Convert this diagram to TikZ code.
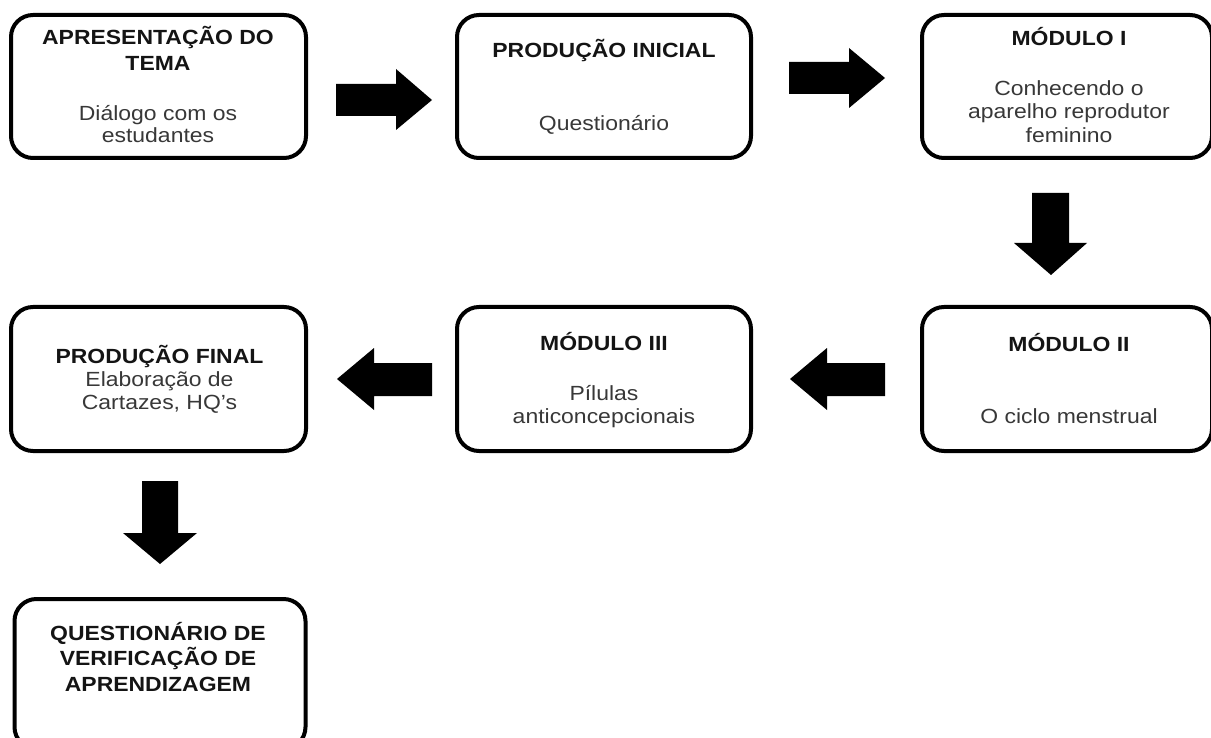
\documentclass[tikz,border=0pt]{standalone}
\usepackage{fontspec}
\setmainfont{Liberation Sans}[FakeStretch=1.12]
\begin{document}
\begin{tikzpicture}[x=1pt,y=-1pt,
  box/.style={draw=black, line width=4pt, rounded corners=22pt, fill=white, inner sep=0pt},
  ttl/.style={anchor=base, inner sep=0pt, text=black!92, font=\fontsize{20.5}{24}\selectfont\bfseries},
  bdy/.style={anchor=base, inner sep=0pt, text=black!78, font=\fontsize{20.5}{24}\selectfont},
  blk/.style={fill=black}]
\clip (0,0) rectangle (1211,738);
\useasboundingbox (0,0) rectangle (1211,738);

% boxes
\node[box, minimum width=295pt, minimum height=143pt] (b1) at (158.5,86.5) {};
\node[box, minimum width=294pt, minimum height=143pt] (b2) at (604,86.5) {};
\node[box, minimum width=290pt, minimum height=143pt] (b3) at (1067,86.5) {};
\node[box, minimum width=290pt, minimum height=144pt] (b4) at (1067,379) {};
\node[box, minimum width=294pt, minimum height=144pt] (b5) at (604,379) {};
\node[box, minimum width=295pt, minimum height=144pt] (b6) at (158.5,379) {};
\node[box, minimum width=291pt, minimum height=150pt] (b7) at (160,674) {};

% texts
\node[ttl] (t1a) at (158,45) {APRESENTAÇÃO DO};
\node[ttl] (t1b) at (158,71) {TEMA};
\node[bdy] (t1c) at (158,121) {Diálogo com os};
\node[bdy] (t1d) at (158,143) {estudantes};

\node[ttl] (t2a) at (604,58) {PRODUÇÃO INICIAL};
\node[bdy] (t2b) at (604,131) {Questionário};

\node[ttl] (t3a) at (1069,46) {MÓDULO I};
\node[bdy] (t3b) at (1069,96) {Conhecendo o};
\node[bdy] (t3c) at (1069,119) {aparelho reprodutor};
\node[bdy] (t3d) at (1069,143) {feminino};

\node[ttl] (t4a) at (1069,351) {MÓDULO II};
\node[bdy] (t4b) at (1069,423) {O ciclo menstrual};

\node[ttl] (t5a) at (604,350) {MÓDULO III};
\node[bdy] (t5b) at (604,400) {Pílulas};
\node[bdy] (t5c) at (604,423) {anticoncepcionais};

\node[ttl] (t6a) at (159.5,363) {PRODUÇÃO FINAL};
\node[bdy] (t6b) at (159.5,386) {Elaboração de};
\node[bdy] (t6c) at (159.5,409) {Cartazes, HQ’s};

\node[ttl] (t7a) at (158,640) {QUESTIONÁRIO DE};
\node[ttl] (t7b) at (158,665) {VERIFICAÇÃO DE};
\node[ttl] (t7c) at (158,691) {APRENDIZAGEM};

% block arrows
\coordinate (a1) at (336,100);
\fill[blk] (a1) ++(0,-16) -- ++(60,0) -- ++(0,-15) -- (432,100) -- (396,130) -- (396,116) -- (336,116) -- cycle;
\coordinate (a2) at (789,78);
\fill[blk] (a2) ++(0,-16) -- (849,62) -- (849,48) -- (885,78) -- (849,108) -- (849,94) -- (789,94) -- cycle;
\coordinate (a3) at (1051,193);
\fill[blk] (1032,193) -- (1069,193) -- (1069,243) -- (1087,243) -- (1051,275) -- (1014,243) -- (1032,243) -- cycle;
\coordinate (a4) at (790,379);
\fill[blk] (885,363) -- (827,363) -- (827,348) -- (790,379) -- (827,410) -- (827,396) -- (885,396) -- cycle;
\coordinate (a5) at (337,379);
\fill[blk] (432,363) -- (374,363) -- (374,348) -- (337,379) -- (374,410) -- (374,396) -- (432,396) -- cycle;
\coordinate (a6) at (160,564);
\fill[blk] (142,481) -- (178,481) -- (178,533) -- (197,533) -- (160,564) -- (123,533) -- (142,533) -- cycle;
\end{tikzpicture}
\end{document}
